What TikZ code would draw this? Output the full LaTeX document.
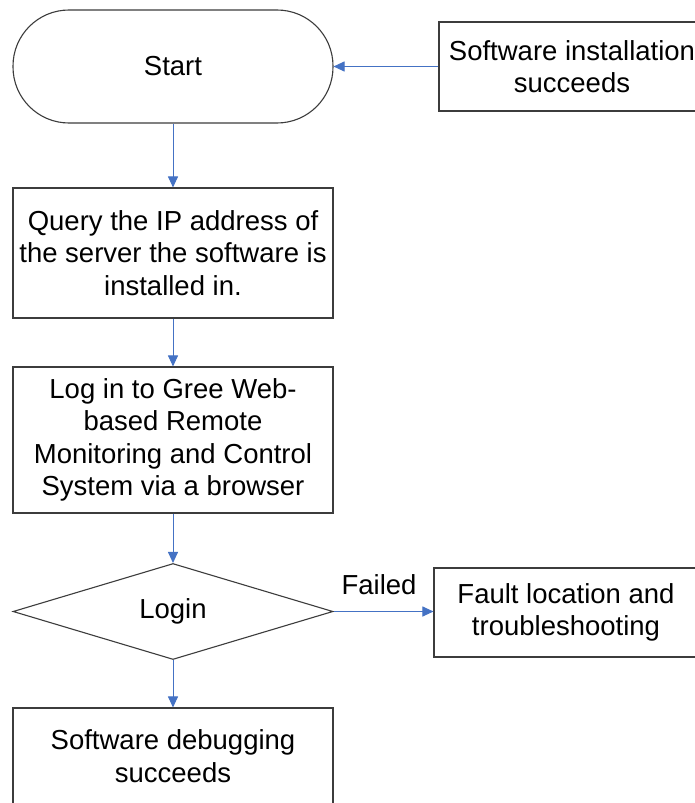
\documentclass[tikz,border=0pt]{standalone}
\usepackage{fontspec}
\setmainfont{Liberation Sans}
\usetikzlibrary{arrows.meta,shapes.geometric}
\definecolor{linkblue}{RGB}{68,114,196}
\definecolor{edgegray}{RGB}{60,60,60}
\begin{document}
\begin{tikzpicture}[x=1pt,y=-1pt,
  every node/.style={font=\fontsize{27.5pt}{32.5pt}\selectfont, align=center, inner sep=0pt},
  boxnode/.style={draw=edgegray, line width=1.1pt, rectangle, minimum width=320pt},
  sidebox/.style={draw=edgegray, line width=1.1pt, rectangle},
  link/.style={draw=linkblue, line width=1pt, -{Triangle[length=11pt,width=10pt]}}]
\useasboundingbox (0,0) rectangle (695,803);
\fill[white] (0,0) rectangle (695,803);
\node[draw=edgegray, line width=1.1pt, rectangle, rounded corners=56pt, minimum width=320pt, minimum height=113pt] (start) at (173,66.5) {Start};
\node[sidebox, minimum width=266pt, minimum height=89pt] (inst) at (572,66.5) {Software installation\\succeeds};
\node[boxnode, minimum height=130pt] (query) at (173,253) {Query the IP address of\\the server the software is\\installed in.};
\node[boxnode, minimum height=146pt] (logbox) at (173,440) {Log in to Gree Web-\\based Remote\\Monitoring and Control\\System via a browser};
\node[draw=edgegray, line width=1.1pt, diamond, minimum width=320pt, minimum height=96pt] (login) at (173,611.5) {Login};
\node[sidebox, minimum width=264pt, minimum height=89pt] (fault) at (566,612.5) {Fault location and\\troubleshooting};
\node[boxnode, minimum height=96pt] (debug) at (173,756) {Software debugging\\succeeds};
\node (failed) at (379,585) {Failed};
\draw[link] (inst.west) -- (start.east);
\draw[link] (start.south) -- (query.north);
\draw[link] (query.south) -- (logbox.north);
\draw[link] (logbox.south) -- (login.north);
\draw[link] (login.east) -- (fault.west |- login.east);
\draw[link] (login.south) -- (debug.north);
\end{tikzpicture}
\end{document}
